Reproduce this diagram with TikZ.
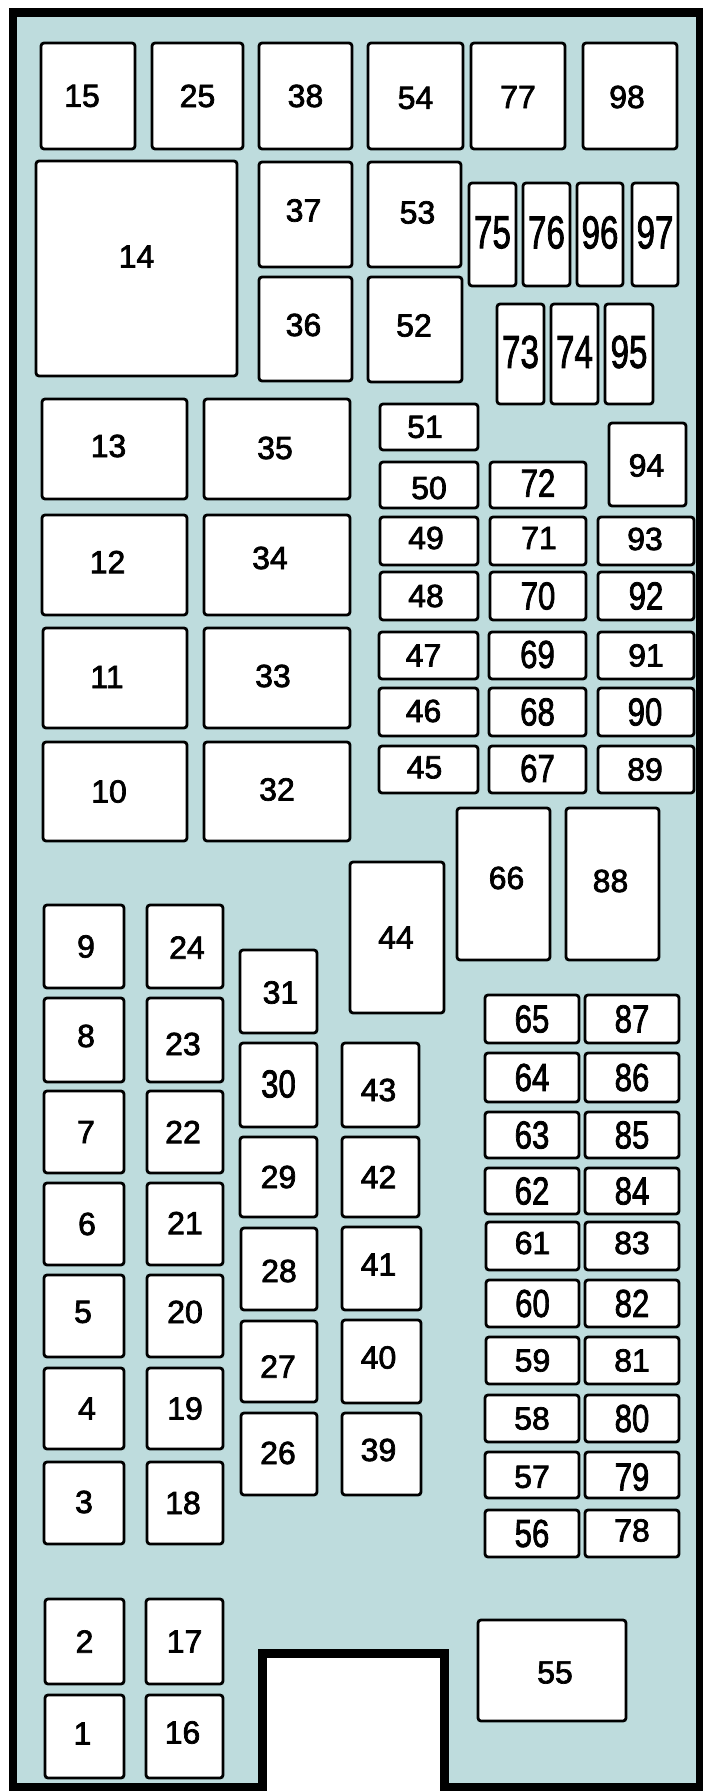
\documentclass[tikz,border=0pt]{standalone}
\usepackage{fontspec}
\setmainfont{Liberation Sans}
\newfontfamily\labfont{Liberation Sans}[RawFeature={embolden=2.2}]
\usepackage{graphicx}
\definecolor{panel}{RGB}{190,220,221}
\newcommand\fs[1]{{\labfont\fontsize{16}{16}\selectfont #1}}
\newcommand\fn[1]{\scalebox{0.8}[1]{\labfont\fontsize{19.5}{20}\selectfont #1}}
\newcommand\fc[1]{\scalebox{0.72}[1]{\labfont\fontsize{23}{24}\selectfont #1}}
\tikzset{
  fusebox/.style={draw=black, fill=white, line width=1.4pt, rounded corners=1.5pt, inner sep=0pt, outer sep=0pt},
  fuselab/.style={inner sep=0pt, outer sep=0pt, text=black},
  frameline/.style={draw=black, line width=4.2pt, line join=miter}
}
\newcommand\fuse[8]{%
  \node[fusebox, minimum width={(#5-#3)*0.5pt}, minimum height={(#6-#4)*0.5pt}] (f#2) at ({(#3+#5)/2},{(#4+#6)/2}) {};
  \node[fuselab] (l#2) at ({(#3+#5)/2+#7},{(#4+#6)/2+#8}) {#1{#2}};}
\begin{document}
\begin{tikzpicture}[x=0.5pt,y=-0.5pt]
\useasboundingbox (0,0) rectangle (702,1792);
\fill[white] (0,0) rectangle (702,1792);
\path[fill=panel, frameline] (13,12.5) -- (700,12.5) -- (700,1787) -- (444.5,1787) -- (444.5,1653.5) -- (262.5,1653.5) -- (262.5,1787) -- (13,1787) -- cycle;
% top row
\fuse{\fs}{15}{41}{43}{135}{149}{-6}{0}
\fuse{\fs}{25}{152}{43}{243}{149}{0}{0}
\fuse{\fs}{38}{259}{43}{352}{149}{0}{0}
\fuse{\fs}{54}{368}{43}{463}{149}{0}{2}
\fuse{\fs}{77}{471}{43}{565}{149}{0}{1}
\fuse{\fs}{98}{583}{43}{677}{149}{-3}{1}
% second block
\fuse{\fs}{14}{36}{161}{237}{376}{0}{-12}
\fuse{\fs}{37}{259}{162}{352}{267}{-2}{-4}
\fuse{\fs}{53}{368}{162}{461}{267}{3}{-2}
\fuse{\fs}{36}{259}{277}{352}{381}{-2}{-4}
\fuse{\fs}{52}{368}{277}{462}{382}{-1}{-4}
\fuse{\fc}{75}{469}{183}{516}{286}{0}{-2}
\fuse{\fc}{76}{523}{183}{570}{286}{0}{-2}
\fuse{\fc}{96}{577}{183}{623}{286}{0}{-2}
\fuse{\fc}{97}{632}{183}{678}{286}{0}{-2}
\fuse{\fc}{73}{497}{304}{544}{404}{0}{-2}
\fuse{\fc}{74}{551}{304}{598}{404}{0}{-2}
\fuse{\fc}{95}{605}{304}{653}{404}{0}{-2}
% left large relays
\fuse{\fs}{13}{42}{399}{187}{499}{-6}{-3}
\fuse{\fs}{35}{204}{399}{350}{499}{-2}{-1}
\fuse{\fs}{12}{42}{515}{187}{615}{-7}{-3}
\fuse{\fs}{34}{204}{515}{350}{615}{-7}{-7}
\fuse{\fs}{11}{43}{628}{187}{728}{-8}{-1}
\fuse{\fs}{33}{204}{628}{350}{728}{-4}{-2}
\fuse{\fs}{10}{43}{742}{187}{841}{-6}{0}
\fuse{\fs}{32}{204}{742}{350}{841}{0}{-2}
% mini fuse block upper right
\fuse{\fs}{51}{380}{404}{478}{450}{-4}{0}
\fuse{\fs}{50}{380}{462}{478}{508}{0}{3}
\fuse{\fn}{72}{490}{462}{586}{508}{0}{-2}
\fuse{\fs}{94}{609}{423}{686}{506}{-1}{1}
\fuse{\fs}{49}{380}{517}{478}{565}{-3}{-3}
\fuse{\fs}{71}{490}{517}{586}{565}{1}{-3}
\fuse{\fs}{93}{598}{517}{694}{565}{-1}{-2}
\fuse{\fs}{48}{380}{572}{478}{620}{-3}{0}
\fuse{\fn}{70}{490}{572}{586}{620}{0}{0}
\fuse{\fn}{92}{598}{572}{694}{620}{0}{0}
\fuse{\fs}{47}{379}{632}{478}{679}{-5}{0}
\fuse{\fn}{69}{489}{632}{586}{679}{0}{-1}
\fuse{\fs}{91}{598}{632}{694}{679}{0}{0}
\fuse{\fs}{46}{379}{688}{478}{736}{-5}{-1}
\fuse{\fn}{68}{489}{688}{586}{736}{0}{0}
\fuse{\fn}{90}{598}{688}{694}{736}{-1}{0}
\fuse{\fs}{45}{379}{746}{478}{793}{-4}{-2}
\fuse{\fn}{67}{489}{746}{586}{793}{0}{-1}
\fuse{\fs}{89}{598}{746}{694}{793}{-1}{0}
% tall relays
\fuse{\fs}{66}{457}{808}{550}{960}{3}{-6}
\fuse{\fs}{88}{566}{808}{659}{960}{-2}{-3}
\fuse{\fs}{44}{350}{862}{444}{1013}{-1}{0}
% left small fuse columns
\fuse{\fs}{9}{44}{905}{124}{988}{2}{0}
\fuse{\fs}{24}{147}{905}{223}{988}{2}{1}
\fuse{\fs}{31}{240}{950}{317}{1033}{2}{1}
\fuse{\fs}{8}{44}{998}{124}{1082}{2}{-4}
\fuse{\fs}{23}{147}{998}{223}{1082}{-2}{4}
\fuse{\fn}{30}{240}{1043}{317}{1127}{0}{-1}
\fuse{\fs}{7}{44}{1091}{124}{1173}{2}{0}
\fuse{\fs}{22}{147}{1091}{223}{1173}{-2}{0}
\fuse{\fs}{29}{240}{1137}{317}{1217}{0}{0}
\fuse{\fs}{43}{342}{1043}{419}{1127}{-2}{5}
\fuse{\fs}{42}{342}{1137}{419}{1217}{-2}{0}
\fuse{\fs}{6}{44}{1183}{124}{1265}{3}{0}
\fuse{\fs}{21}{147}{1183}{223}{1265}{0}{-1}
\fuse{\fs}{28}{241}{1228}{317}{1310}{0}{2}
\fuse{\fs}{5}{44}{1275}{124}{1357}{-1}{-4}
\fuse{\fs}{20}{147}{1275}{223}{1357}{0}{-4}
\fuse{\fs}{27}{241}{1321}{317}{1402}{-1}{5}
\fuse{\fs}{4}{44}{1368}{124}{1449}{3}{0}
\fuse{\fs}{19}{147}{1368}{223}{1449}{0}{0}
\fuse{\fs}{26}{241}{1413}{317}{1495}{-1}{-1}
\fuse{\fs}{3}{44}{1462}{124}{1544}{0}{-1}
\fuse{\fs}{18}{147}{1462}{223}{1544}{-2}{0}
\fuse{\fs}{41}{342}{1227}{421}{1310}{-3}{-4}
\fuse{\fs}{40}{342}{1320}{421}{1403}{-3}{-4}
\fuse{\fs}{39}{342}{1413}{421}{1495}{-3}{-4}
\fuse{\fs}{2}{45}{1599}{124}{1684}{0}{0}
\fuse{\fs}{17}{146}{1599}{223}{1684}{0}{0}
\fuse{\fs}{1}{45}{1695}{124}{1778}{-2}{-3}
\fuse{\fs}{16}{146}{1695}{223}{1778}{-2}{-4}
% lower right mini fuses
\fuse{\fn}{65}{485}{995}{579}{1043}{0}{0}
\fuse{\fn}{87}{585}{995}{679}{1043}{0}{0}
\fuse{\fn}{64}{485}{1053}{579}{1102}{0}{0}
\fuse{\fn}{86}{585}{1053}{679}{1102}{0}{0}
\fuse{\fn}{63}{485}{1112}{579}{1158}{0}{0}
\fuse{\fn}{85}{585}{1112}{679}{1158}{0}{0}
\fuse{\fn}{62}{485}{1168}{579}{1214}{0}{0}
\fuse{\fn}{84}{585}{1168}{679}{1214}{0}{0}
\fuse{\fs}{61}{486}{1222}{579}{1270}{0}{-3}
\fuse{\fs}{83}{585}{1222}{679}{1270}{0}{-3}
\fuse{\fn}{60}{486}{1280}{579}{1327}{0}{0}
\fuse{\fn}{82}{585}{1280}{679}{1327}{0}{0}
\fuse{\fs}{59}{486}{1337}{579}{1384}{0}{0}
\fuse{\fs}{81}{585}{1337}{679}{1384}{0}{0}
\fuse{\fs}{58}{485}{1395}{579}{1442}{0}{0}
\fuse{\fn}{80}{585}{1395}{679}{1442}{0}{0}
\fuse{\fs}{57}{485}{1452}{579}{1498}{0}{2}
\fuse{\fn}{79}{585}{1452}{679}{1498}{0}{2}
\fuse{\fn}{56}{485}{1510}{579}{1557}{0}{0}
\fuse{\fs}{78}{585}{1510}{679}{1557}{0}{-3}
\fuse{\fs}{55}{478}{1620}{626}{1721}{3}{2}
\end{tikzpicture}
\end{document}
